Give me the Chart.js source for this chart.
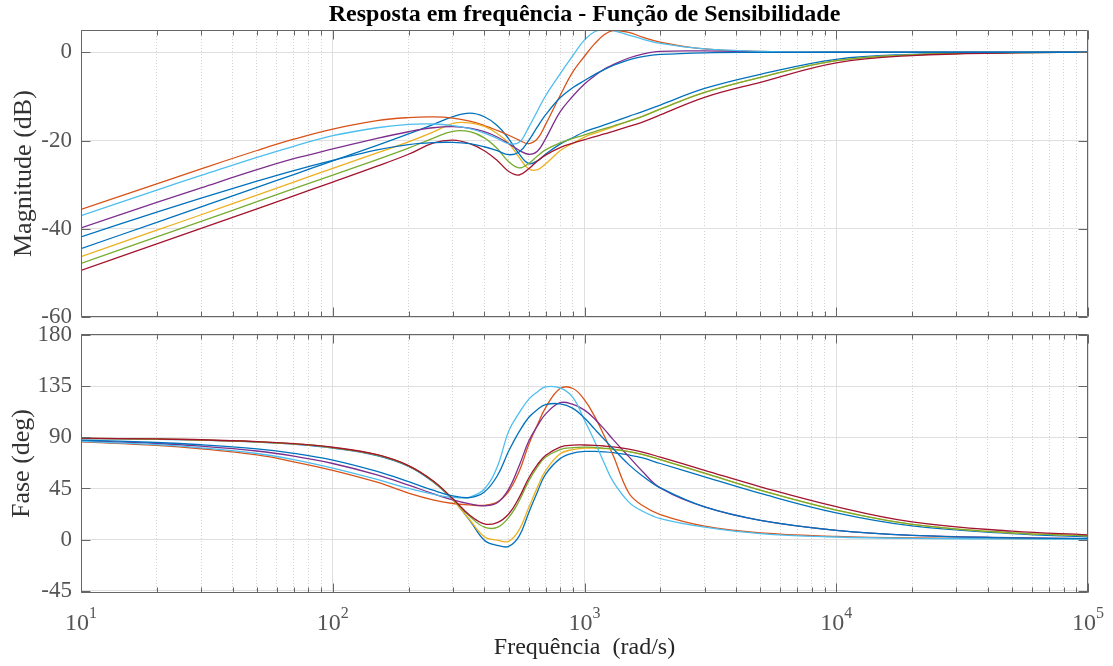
<!DOCTYPE html>
<html>
<head>
<meta charset="utf-8">
<script src="https://cdn.jsdelivr.net/npm/chart.js@4.4.1/dist/chart.umd.min.js"></script>
<style>
html,body{margin:0;padding:0;background:#ffffff;}
#wrap{position:relative;width:1113px;height:666px;overflow:hidden;background:#fff;}
canvas{position:absolute;left:0;}
#cMag{top:0;}
#cPhase{top:300px;}
</style>
</head>
<body>
<div id="wrap">
<canvas id="cMag" width="1113" height="340"></canvas>
<canvas id="cPhase" width="1113" height="366"></canvas>
</div>
<script>
// ---------------- data ----------------
const freq = [10, 20, 30, 50, 70, 100, 150, 200, 250, 300, 350, 400, 450, 500, 550, 600, 650, 700, 800, 900, 1000, 1100, 1200, 1300, 1500, 1700, 2000, 3000, 5000, 10000, 20000, 50000, 100000];

const seriesColors = ['#0072BD', '#D95319', '#EDB120', '#7E2F8E', '#77AC30', '#4DBEEE', '#A2142F', '#0072BD'];

// magnitude (dB)
const magS1 = [-44.5, -38.5, -35.0, -30.6, -27.7, -24.6, -21.1, -18.5, -16.4, -14.6, -13.8, -14.6, -16.6, -19.6, -23.0, -25.2, -24.6, -23.1, -20.8, -19.3, -18.0, -17.2, -16.45, -15.75, -14.5, -13.45, -11.95, -8.2, -5.0, -1.6, -0.5, -0.09, -0.02];
const magS2 = [-35.6, -29.8, -26.4, -22.25, -19.7, -17.4, -15.5, -14.8, -14.65, -14.9, -15.6, -16.6, -17.7, -18.8, -19.9, -20.7, -19.6, -16.4, -9.8, -4.4, -0.9, 2.0, 4.0, 4.9, 4.5, 3.4, 2.3, 0.75, 0.2, 0.05, 0.01, 0, 0];
const magS3 = [-46.3, -40.3, -36.8, -32.35, -29.4, -26.3, -22.8, -20.3, -18.1, -16.1, -16.0, -16.8, -18.4, -20.6, -23.8, -26.4, -26.6, -25.3, -22.3, -20.6, -19.2, -18.3, -17.6, -16.9, -15.6, -14.5, -12.9, -9.1, -5.7, -1.9, -0.6, -0.1, -0.03];
const magS4 = [-39.8, -34.0, -30.7, -26.6, -24.1, -21.9, -19.5, -18.0, -17.1, -16.85, -17.2, -18.0, -19.2, -20.7, -22.2, -23.1, -22.4, -19.6, -13.5, -9.9, -7.2, -5.3, -3.8, -2.8, -1.3, -0.4, 0.2, 0.3, 0.1, 0.02, 0, 0, 0];
const magS5 = [-47.8, -41.8, -38.3, -33.85, -30.9, -27.8, -24.3, -21.7, -19.5, -17.9, -18.0, -19.4, -21.8, -24.8, -26.2, -25.2, -23.5, -22.1, -20.5, -19.5, -18.7, -17.95, -17.3, -16.7, -15.6, -14.5, -12.9, -9.1, -5.7, -1.9, -0.6, -0.1, -0.03];
const magS6 = [-37.0, -31.2, -27.9, -23.8, -21.3, -18.9, -17.1, -16.35, -16.25, -16.6, -17.3, -18.3, -19.5, -20.7, -20.4, -17.0, -13.3, -9.9, -4.9, -0.7, 2.8, 4.7, 5.1, 4.9, 3.9, 3.0, 2.0, 0.75, 0.22, 0.05, 0.01, 0, 0];
const magS7 = [-49.4, -43.4, -39.9, -35.45, -32.5, -29.4, -25.8, -23.1, -20.6, -19.9, -20.7, -22.3, -24.5, -27.0, -27.8, -26.4, -24.6, -23.3, -21.6, -20.6, -19.8, -19.1, -18.5, -17.9, -16.8, -15.8, -14.2, -10.2, -6.8, -2.4, -0.75, -0.13, -0.03];
const magS8 = [-41.8, -36.2, -33.05, -29.2, -26.8, -24.5, -22.1, -20.9, -20.45, -20.4, -20.7, -21.4, -22.3, -23.2, -22.6, -20.0, -16.9, -14.2, -10.3, -8.0, -6.4, -5.0, -3.9, -3.0, -1.7, -1.0, -0.5, -0.12, -0.03, 0, 0, 0, 0];

// phase (deg)
const phaseS1 = [89.0, 88.3, 87.5, 85.9, 84.0, 80.6, 74.0, 64.5, 51.0, 35.0, 17.0, -0.5, -5.0, -6.0, 3.0, 23.5, 42.0, 57.5, 71.3, 76.2, 77.6, 77.6, 77.2, 76.5, 74.5, 72.0, 67.0, 55.3, 40.6, 23.5, 12.0, 5.3, 2.3];
const phaseS2 = [86.0, 83.0, 80.0, 74.5, 68.5, 61.0, 50.5, 41.0, 35.0, 31.8, 30.5, 30.2, 33.0, 42.5, 60.0, 83.5, 101.0, 116.0, 133.0, 133.0, 123.0, 108.0, 91.0, 74.0, 41.0, 30.0, 22.0, 11.8, 5.9, 2.9, 1.5, 0.9, 0.8];
const phaseS3 = [89.2, 88.5, 87.7, 86.1, 84.3, 81.0, 74.5, 65.0, 51.5, 35.0, 17.5, 2.5, -0.5, -1.5, 8.5, 28.0, 46.0, 60.5, 75.5, 79.3, 80.5, 80.6, 80.2, 79.5, 77.4, 74.9, 70.4, 58.4, 43.4, 26.0, 13.4, 5.9, 3.4];
const phaseS4 = [87.0, 84.6, 82.3, 78.0, 73.5, 67.0, 57.0, 48.0, 40.5, 35.0, 31.5, 29.8, 32.5, 44.5, 65.0, 86.5, 100.0, 110.5, 120.5, 119.0, 114.0, 106.0, 97.0, 88.0, 73.0, 60.0, 45.5, 28.8, 17.0, 8.2, 3.8, 1.7, 0.9];
const phaseS5 = [89.2, 88.5, 87.7, 86.1, 84.3, 81.0, 74.5, 64.9, 51.5, 35.5, 20.5, 11.0, 10.8, 19.5, 34.0, 51.5, 64.0, 72.5, 79.3, 81.0, 81.4, 81.1, 80.4, 79.6, 77.5, 75.0, 70.5, 58.5, 43.5, 26.0, 13.5, 6.0, 3.5];
const phaseS6 = [86.4, 83.6, 80.8, 75.8, 70.5, 63.0, 53.0, 45.0, 40.0, 37.2, 37.5, 44.5, 64.0, 95.5, 111.5, 123.5, 130.0, 134.5, 133.5, 125.0, 105.0, 86.0, 67.0, 51.0, 33.0, 25.0, 18.5, 11.0, 5.3, 2.3, 1.1, 0.6, 0.4];
const phaseS7 = [89.3, 88.6, 87.9, 86.3, 84.5, 81.3, 74.8, 65.2, 51.8, 36.0, 21.5, 13.8, 15.0, 22.5, 37.0, 54.0, 66.0, 74.0, 81.5, 83.2, 83.3, 83.0, 82.4, 81.6, 79.6, 77.1, 72.6, 61.0, 46.5, 29.0, 15.6, 7.4, 4.2];
const phaseS8 = [87.6, 85.5, 83.5, 79.8, 76.0, 70.0, 60.0, 51.0, 43.5, 38.5, 37.0, 42.0, 56.0, 78.0, 95.0, 107.5, 114.5, 118.8, 119.5, 115.5, 107.0, 97.0, 88.0, 80.0, 66.0, 56.0, 45.5, 28.8, 17.0, 8.2, 3.8, 1.6, 0.8];

// ticks and texts
const xMajorTicks = [10, 100, 1000, 10000, 100000];
const xTickBase = '10';
const xTickExponents = ['1', '2', '3', '4', '5'];
const xMinorMultipliers = [2, 3, 4, 5, 6, 7, 8, 9];
const magTicks = [-60, -40, -20, 0];
const phaseTicks = [-45, 0, 45, 90, 135, 180];
const titleText = 'Resposta em frequência - Função de Sensibilidade';
const magLabel = 'Magnitude (dB)';
const phaseLabel = 'Fase (deg)';
const xLabel = 'Frequência  (rad/s)';

const magSeries = [magS1, magS2, magS3, magS4, magS5, magS6, magS7, magS8];
const phaseSeries = [phaseS1, phaseS2, phaseS3, phaseS4, phaseS5, phaseS6, phaseS7, phaseS8];

// ---------------- helpers ----------------
const FONT = '"Liberation Serif", "Times New Roman", Times, serif';
const xMinorTicks = [];
xMajorTicks.slice(0, -1).forEach(d => xMinorMultipliers.forEach(m => xMinorTicks.push(d * m)));

function buildDatasets(list) {
  return list.map((arr, i) => ({
    label: 'S' + (i + 1),
    data: freq.map((f, k) => ({ x: f, y: arr[k] })),
    borderColor: seriesColors[i],
    backgroundColor: seriesColors[i],
    borderWidth: 1.3,
    pointRadius: 0,
    fill: false,
    tension: 0.4,
    order: list.length - i
  }));
}

const framePlugin = {
  id: 'frame',
  afterDatasetsDraw(chart, args, opts) {
    const { ctx, chartArea: a } = chart;
    const xs = chart.scales.x, ys = chart.scales.y;
    const L = Math.round(a.left) + 0.5, R = Math.round(a.right) - 0.5;
    const T = Math.round(a.top) + 0.5, B = Math.round(a.bottom) - 0.5;
    ctx.save();
    ctx.strokeStyle = '#666666';
    ctx.lineWidth = 1;
    ctx.beginPath();
    ctx.rect(L, T, R - L, B - T);
    opts.yTicks.forEach(v => {
      const p = Math.round(ys.getPixelForValue(v)) + 0.5;
      ctx.moveTo(L, p); ctx.lineTo(L + 9, p);
      ctx.moveTo(R, p); ctx.lineTo(R - 9, p);
    });
    xMajorTicks.forEach(v => {
      const p = Math.round(xs.getPixelForValue(v)) + 0.5;
      ctx.moveTo(p, T); ctx.lineTo(p, T + 9);
      ctx.moveTo(p, B); ctx.lineTo(p, B - 9);
    });
    xMinorTicks.forEach(v => {
      const p = Math.round(xs.getPixelForValue(v)) + 0.5;
      ctx.moveTo(p, T); ctx.lineTo(p, T + 5);
      ctx.moveTo(p, B); ctx.lineTo(p, B - 5);
    });
    ctx.stroke();
    if (opts.xLabels) {
      ctx.fillStyle = '#555555';
      ctx.textBaseline = 'alphabetic';
      ctx.textAlign = 'left';
      const fb = '24px ' + FONT, fe = '16px ' + FONT;
      xMajorTicks.forEach((v, i) => {
        const p = xs.getPixelForValue(v);
        ctx.font = fb; const w1 = ctx.measureText(xTickBase).width;
        ctx.font = fe; const w2 = ctx.measureText(xTickExponents[i]).width;
        const s = p - (w1 + w2) / 2;
        ctx.font = fb; ctx.fillText(xTickBase, s, opts.baseY);
        ctx.font = fe; ctx.fillText(xTickExponents[i], s + w1, opts.expY);
      });
    }
    ctx.restore();
  }
};

function makeChart(canvasId, series, cfg) {
  const xCommon = {
    type: 'logarithmic', min: 10, max: 100000, position: 'bottom',
    ticks: { display: false, autoSkip: false }
  };
  return new Chart(document.getElementById(canvasId), {
    type: 'line',
    data: { datasets: buildDatasets(series) },
    options: {
      responsive: false, animation: false, devicePixelRatio: 1,
      layout: { padding: { left: 0, right: 25, top: cfg.padTop, bottom: 0 } },
      plugins: {
        legend: { display: false },
        tooltip: { enabled: false },
        title: cfg.title ? {
          display: true, text: cfg.title, fullSize: false, color: '#000000',
          font: { family: FONT, size: 24, weight: 'bold' },
          padding: { top: 0, bottom: 1.2 }
        } : { display: false },
        frame: { yTicks: cfg.yTicks, xLabels: cfg.xLabels, baseY: 330, expY: 318 }
      },
      scales: {
        x: Object.assign({}, xCommon, {
          grid: { color: '#dfdfdf', lineWidth: 1, drawTicks: false },
          border: { display: false },
          afterBuildTicks: s => { s.ticks = xMajorTicks.map(v => ({ value: v })); },
          afterFit: s => { s.height = cfg.xHeight; },
          title: cfg.xTitle ? {
            display: true, text: cfg.xTitle, color: '#262626',
            font: { family: FONT, size: 24 }, padding: { top: 0, bottom: 3.6 }
          } : { display: false }
        }),
        xMinor: Object.assign({}, xCommon, {
          grid: { color: '#d2d2d2', lineWidth: 1, drawTicks: false, borderDash: [1, 2] },
          border: { display: false, dash: [1, 2] },
          afterBuildTicks: s => { s.ticks = xMinorTicks.map(v => ({ value: v })); },
          afterFit: s => { s.height = 0; }
        }),
        y: {
          type: 'linear', min: cfg.yMin, max: cfg.yMax, position: 'left',
          afterBuildTicks: s => { s.ticks = cfg.yTicks.map(v => ({ value: v })); },
          afterFit: s => { s.width = 81; },
          ticks: { font: { family: FONT, size: 23 }, color: '#555555', padding: 9, autoSkip: false },
          grid: { color: '#dfdfdf', lineWidth: 1, drawTicks: false },
          border: { display: false },
          title: {
            display: true, text: cfg.yTitle, color: '#333333',
            font: { family: FONT, size: 26 }, padding: { top: cfg.yTitlePad, bottom: 0 }
          }
        }
      }
    },
    plugins: [framePlugin]
  });
}

makeChart('cMag', magSeries, {
  title: titleText, padTop: 0, xHeight: 17, yMin: -60, yMax: 5.04,
  yTicks: magTicks, yTitle: magLabel, yTitlePad: 9, xLabels: false
});
makeChart('cPhase', phaseSeries, {
  title: null, padTop: 34, xHeight: 73, yMin: -47, yMax: 181,
  yTicks: phaseTicks, yTitle: phaseLabel, yTitlePad: 7, xLabels: true, xTitle: xLabel
});
</script>
</body>
</html>
